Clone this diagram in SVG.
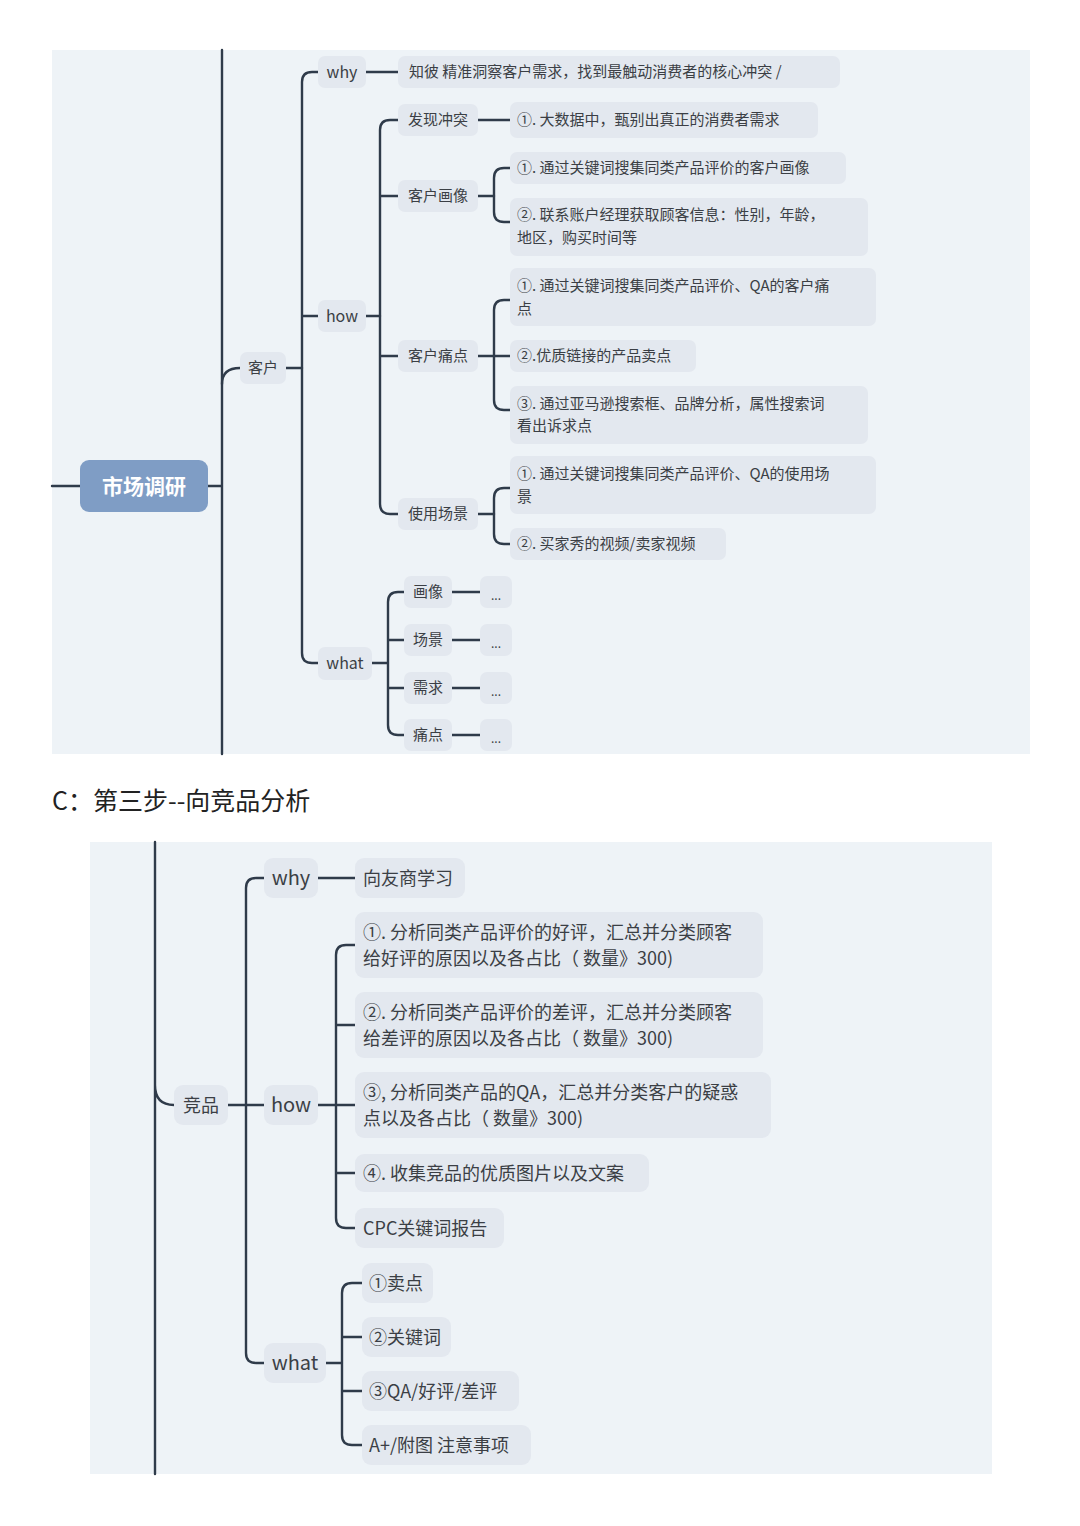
<svg xmlns="http://www.w3.org/2000/svg" width="1080" height="1526" viewBox="0 0 1080 1526">
<style>
text{font-family:"Noto Sans CJK SC","Noto Sans",sans-serif;fill:#3b3f45}
.n{fill:#e3e8ef}
.t{font-size:15px}
.b{font-size:18px}
.c path{fill:none;stroke:#2f3b4a;stroke-width:2.4;stroke-linecap:round}
</style>
<rect x="52" y="50" width="978" height="704" fill="#eef3f7"/>
<rect x="90" y="842" width="902" height="632" fill="#eef3f7"/>
<g class="c" id="connectors">
<path d="M222,50V754M52,486H80M208,486H222"/>
<path d="M222,384Q222,368 240,368M286,368H302"/>
<path d="M318,72H312Q302,72 302,82V653Q302,663 312,663H318M302,316H318"/>
<path d="M366,72H398M366,316H380"/>
<path d="M398,120H390Q380,120 380,130V504Q380,514 390,514H398M380,196H398M380,356H398"/>
<path d="M478,120H510M478,196H494M478,356H510M478,514H494"/>
<path d="M510,168H504Q494,168 494,178V212Q494,222 504,222H510"/>
<path d="M510,300H504Q494,300 494,310V400Q494,410 504,410H510"/>
<path d="M510,488H504Q494,488 494,498V534Q494,544 504,544H510"/>
<path d="M372,663H388M404,592H398Q388,592 388,602V725Q388,735 398,735H404M388,640H404M388,688H404"/>
<path d="M452,592H480M452,640H480M452,688H480M452,735H480"/>
<path d="M155,842V1474M155,1085Q155,1105 174,1105M228,1105H264"/>
<path d="M264,878H256Q246,878 246,888V1353Q246,1363 256,1363H264M318,878H355M318,1105H336"/>
<path d="M355,945H346Q336,945 336,955V1218Q336,1228 346,1228H355M336,1025H355M336,1105H355M336,1173H355"/>
<path d="M326,1363H342M362,1283H352Q342,1283 342,1293V1435Q342,1445 352,1445H362M342,1337H362M342,1391H362"/>
</g>
<g id="root"><rect x="80" y="460" width="128" height="52" rx="9" fill="#7f9dc5"/><text x="144" y="494" text-anchor="middle" style="font-size:21px;font-weight:bold;fill:#fff">市场调研</text></g>
<g id="kehu"><rect class="n" x="240" y="352" width="46" height="32" rx="7"/><text class="t" x="263" y="373" text-anchor="middle">客户</text></g>
<g id="why1"><rect class="n" x="318" y="56" width="48" height="32" rx="7"/><text class="t" x="342" y="78" text-anchor="middle" style="font-size:16px">why</text></g>
<g id="why1t"><rect class="n" x="398" y="56" width="442" height="32" rx="7"/><text class="t" x="409" y="77">知彼 精准洞察客户需求，找到最触动消费者的核心冲突 /</text></g>
<g id="how1"><rect class="n" x="318" y="300" width="48" height="32" rx="7"/><text class="t" x="342" y="322" text-anchor="middle" style="font-size:16px">how</text></g>
<g id="fx"><rect class="n" x="398" y="104" width="80" height="32" rx="7"/><text class="t" x="438" y="125" text-anchor="middle">发现冲突</text></g>
<g id="fx1"><rect class="n" x="510" y="102" width="308" height="36" rx="7"/><text class="t" x="517" y="125">①. 大数据中，甄别出真正的消费者需求</text></g>
<g id="hx"><rect class="n" x="398" y="180" width="80" height="32" rx="7"/><text class="t" x="438" y="201" text-anchor="middle">客户画像</text></g>
<g id="hx1"><rect class="n" x="510" y="152" width="336" height="32" rx="7"/><text class="t" x="517" y="173">①. 通过关键词搜集同类产品评价的客户画像</text></g>
<g id="hx2"><rect class="n" x="510" y="198" width="358" height="58" rx="7"/><text class="t" x="517" y="220">②. 联系账户经理获取顾客信息：性别，年龄，</text><text class="t" x="517" y="243">地区，购买时间等</text></g>
<g id="td"><rect class="n" x="398" y="340" width="80" height="32" rx="7"/><text class="t" x="438" y="361" text-anchor="middle">客户痛点</text></g>
<g id="td1"><rect class="n" x="510" y="268" width="366" height="58" rx="7"/><text class="t" x="517" y="291">①. 通过关键词搜集同类产品评价、QA的客户痛</text><text class="t" x="517" y="314">点</text></g>
<g id="td2"><rect class="n" x="510" y="340" width="186" height="32" rx="7"/><text class="t" x="517" y="361">②.优质链接的产品卖点</text></g>
<g id="td3"><rect class="n" x="510" y="386" width="358" height="58" rx="7"/><text class="t" x="517" y="409">③. 通过亚马逊搜索框、品牌分析，属性搜索词</text><text class="t" x="517" y="431">看出诉求点</text></g>
<g id="cj"><rect class="n" x="398" y="498" width="80" height="32" rx="7"/><text class="t" x="438" y="519" text-anchor="middle">使用场景</text></g>
<g id="cj1"><rect class="n" x="510" y="456" width="366" height="58" rx="7"/><text class="t" x="517" y="479">①. 通过关键词搜集同类产品评价、QA的使用场</text><text class="t" x="517" y="502">景</text></g>
<g id="cj2"><rect class="n" x="510" y="528" width="216" height="32" rx="7"/><text class="t" x="517" y="549">②. 买家秀的视频/卖家视频</text></g>
<g id="what1"><rect class="n" x="318" y="647" width="54" height="33" rx="7"/><text class="t" x="345" y="669" text-anchor="middle" style="font-size:16px">what</text></g>
<g id="w1"><rect class="n" x="404" y="576" width="48" height="32" rx="7"/><text class="t" x="428" y="597" text-anchor="middle">画像</text><rect class="n" x="480" y="576" width="32" height="32" rx="7"/><text class="t" x="496" y="600" text-anchor="middle" style="font-size:12px">...</text></g>
<g id="w2"><rect class="n" x="404" y="624" width="48" height="32" rx="7"/><text class="t" x="428" y="645" text-anchor="middle">场景</text><rect class="n" x="480" y="624" width="32" height="32" rx="7"/><text class="t" x="496" y="648" text-anchor="middle" style="font-size:12px">...</text></g>
<g id="w3"><rect class="n" x="404" y="672" width="48" height="32" rx="7"/><text class="t" x="428" y="693" text-anchor="middle">需求</text><rect class="n" x="480" y="672" width="32" height="32" rx="7"/><text class="t" x="496" y="696" text-anchor="middle" style="font-size:12px">...</text></g>
<g id="w4"><rect class="n" x="404" y="719" width="48" height="32" rx="7"/><text class="t" x="428" y="740" text-anchor="middle">痛点</text><rect class="n" x="480" y="719" width="32" height="32" rx="7"/><text class="t" x="496" y="743" text-anchor="middle" style="font-size:12px">...</text></g>
<text x="52" y="810" style="font-size:25px;fill:#222">C：第三步--向竞品分析</text>
<g id="jp"><rect class="n" x="174" y="1085" width="54" height="40" rx="9"/><text class="b" x="201" y="1112" text-anchor="middle">竞品</text></g>
<g id="why2"><rect class="n" x="264" y="858" width="54" height="40" rx="9"/><text class="b" x="291" y="885" text-anchor="middle" style="font-size:20px">why</text></g>
<g id="why2t"><rect class="n" x="355" y="858" width="110" height="40" rx="9"/><text class="b" x="363" y="885">向友商学习</text></g>
<g id="how2"><rect class="n" x="264" y="1085" width="54" height="40" rx="9"/><text class="b" x="291" y="1112" text-anchor="middle" style="font-size:20px">how</text></g>
<g id="h1"><rect class="n" x="355" y="912" width="408" height="66" rx="9"/><text class="b" x="363" y="939">①. 分析同类产品评价的好评，汇总并分类顾客</text><text class="b" x="363" y="965">给好评的原因以及各占比（ 数量》300)</text></g>
<g id="h2"><rect class="n" x="355" y="992" width="408" height="66" rx="9"/><text class="b" x="363" y="1019">②. 分析同类产品评价的差评，汇总并分类顾客</text><text class="b" x="363" y="1045">给差评的原因以及各占比（ 数量》300)</text></g>
<g id="h3"><rect class="n" x="355" y="1072" width="416" height="66" rx="9"/><text class="b" x="363" y="1099">③, 分析同类产品的QA，汇总并分类客户的疑惑</text><text class="b" x="363" y="1125">点以及各占比（ 数量》300)</text></g>
<g id="h4"><rect class="n" x="355" y="1154" width="294" height="38" rx="9"/><text class="b" x="363" y="1180">④. 收集竞品的优质图片以及文案</text></g>
<g id="h5"><rect class="n" x="355" y="1208" width="149" height="40" rx="9"/><text class="b" x="363" y="1235">CPC关键词报告</text></g>
<g id="what2"><rect class="n" x="264" y="1343" width="62" height="40" rx="9"/><text class="b" x="295" y="1370" text-anchor="middle" style="font-size:20px">what</text></g>
<g id="x1"><rect class="n" x="362" y="1263" width="71" height="40" rx="9"/><text class="b" x="369" y="1290">①卖点</text></g>
<g id="x2"><rect class="n" x="362" y="1317" width="89" height="40" rx="9"/><text class="b" x="369" y="1344">②关键词</text></g>
<g id="x3"><rect class="n" x="362" y="1371" width="157" height="40" rx="9"/><text class="b" x="369" y="1398">③QA/好评/差评</text></g>
<g id="x4"><rect class="n" x="362" y="1425" width="169" height="40" rx="9"/><text class="b" x="369" y="1452">A+/附图 注意事项</text></g>
</svg>
